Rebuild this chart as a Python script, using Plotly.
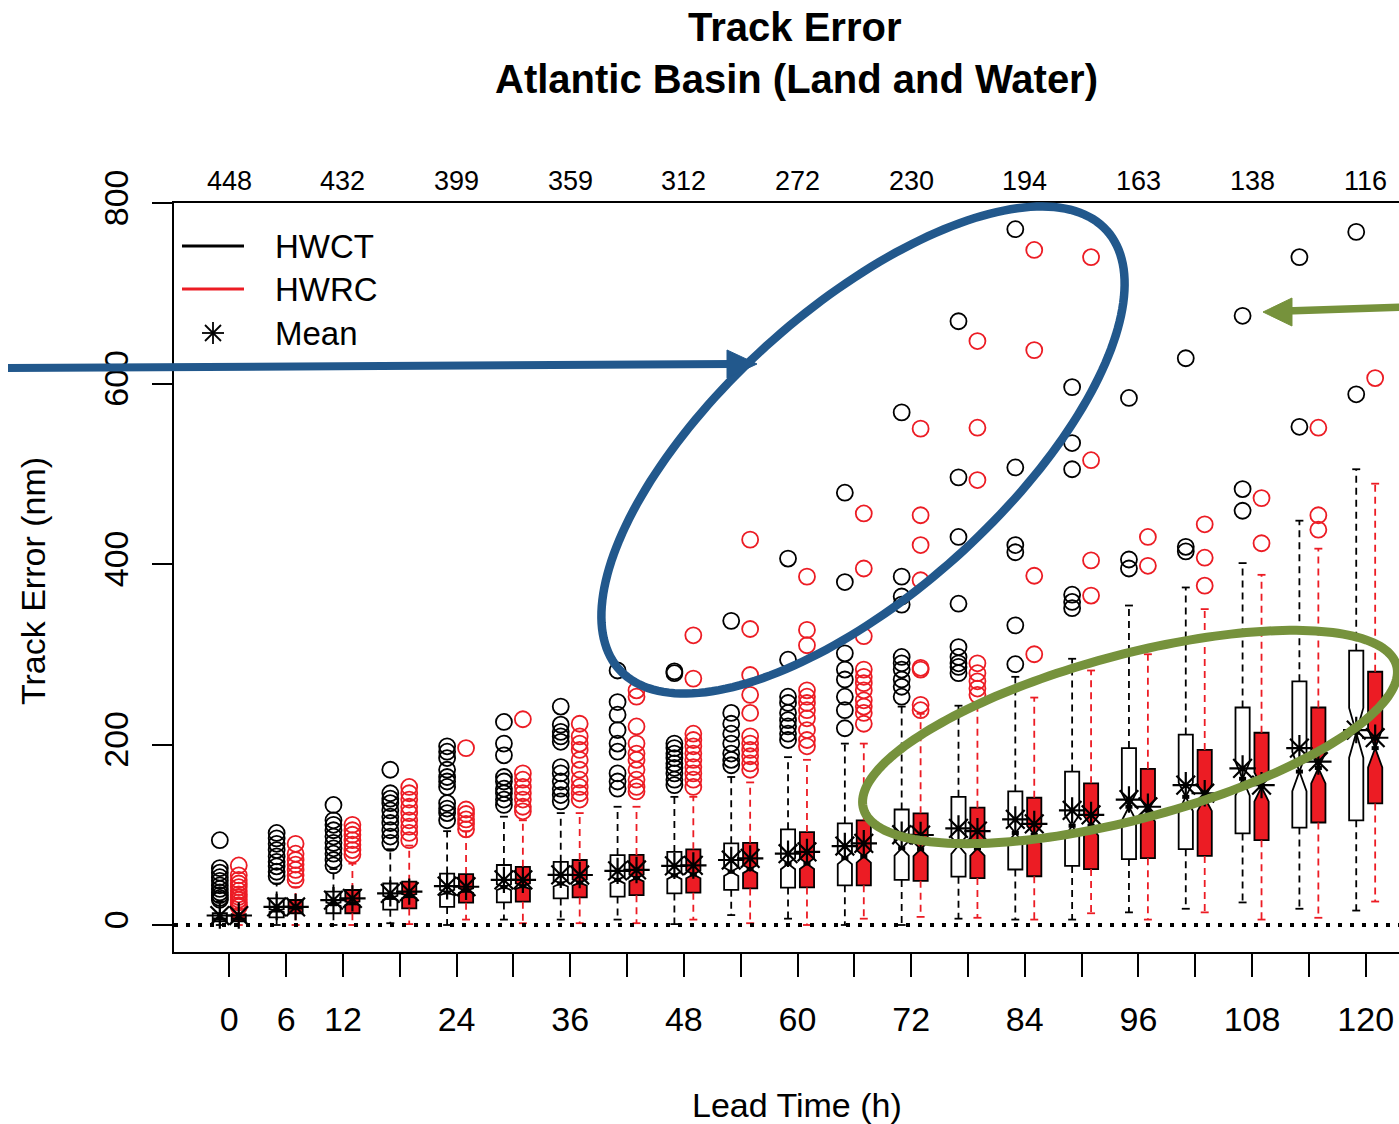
import numpy as np
import plotly.graph_objects as go

# ---------------- data ----------------
lead_times = [0, 6, 12, 18, 24, 30, 36, 42, 48, 54, 60, 66, 72, 78, 84, 90, 96, 102, 108, 114, 120]
tick_text = ["0", "6", "12", "", "24", "", "36", "", "48", "", "60", "", "72", "", "84", "", "96", "", "108", "", "120"]
count_leads = [0, 12, 24, 36, 48, 60, 72, 84, 96, 108, 120]
case_counts = [448, 432, 399, 359, 312, 272, 230, 194, 163, 138, 116]

# HWCT (black, open boxes)
hwct_q1 = [4, 8.5, 13, 17, 20, 25, 29.5, 31.5, 35, 39, 41.5, 44, 50, 53.5, 61.5, 65.5, 73, 84, 101.5, 108, 116]
hwct_med = [7, 16, 23, 30, 36, 42, 46, 50, 55, 59, 68, 74, 85, 88, 102, 110, 131, 142, 162, 170, 213]
hwct_q3 = [13, 29.5, 37, 46, 57, 66.5, 70, 77.5, 81, 90.5, 106, 112.5, 128, 142, 148, 170, 196, 211, 241, 270, 304]
hwct_lo = [0, 0, 0, 2, 0, 6, 6, 6, 1, 11, 7, 0, 0, 7, 6, 6, 14, 18, 25, 18, 16]
hwct_hi = [26, 46, 62, 84, 104, 120, 124, 131, 142, 164, 186, 201, 242, 243, 275, 295, 354, 374, 401, 448, 505]
hwct_mean = [10.5, 20, 27.5, 35, 43, 50, 55.5, 60, 65.5, 72, 79, 87.5, 100, 107, 117, 127, 139, 155, 173.5, 196, 216]
hwct_out = [
    [94, 63, 58, 53, 49, 44, 40, 36, 33, 30, 28],
    [102, 96, 90, 83, 76, 70, 65, 59, 54],
    [133, 116, 111, 105, 98, 91, 85, 79, 72, 66],
    [172, 146, 140, 135, 127, 120, 113, 105, 98, 91],
    [198, 192, 185, 172, 164, 159, 153, 135, 129, 124, 116],
    [225, 201, 188, 164, 159, 151, 146, 139, 133],
    [242, 222, 214, 209, 203, 175, 168, 159, 151, 144, 137],
    [282, 247, 233, 216, 201, 192, 168, 159, 151],
    [281, 279, 201, 196, 190, 185, 179, 174, 168, 161, 155],
    [337, 235, 223, 212, 201, 190, 183, 177],
    [406, 294, 253, 246, 235, 227, 220, 212, 205],
    [479, 380, 301, 283, 272, 253, 238, 218],
    [568, 386, 364, 355, 297, 290, 283, 272, 264, 253],
    [669, 496, 430, 356, 308, 297, 290, 286, 279],
    [771, 507, 421, 413, 332, 289],
    [596, 534, 505, 366, 358, 351],
    [584, 405, 395],
    [628, 419, 414],
    [675, 483, 459],
    [740, 552],
    [768, 588],
]

# HWRC (red, filled boxes)
hwrc_q1 = [4, 13, 13, 18.4, 24.7, 25.8, 30.6, 33, 35.8, 40.5, 41.6, 44, 49, 52, 54, 62, 74, 76.5, 94, 113.6, 134.7]
hwrc_med = [7, 19, 24, 32, 38, 43, 47, 52, 56, 62, 68, 76, 84, 85, 100, 110, 127, 141, 153, 174, 196]
hwrc_q3 = [12, 27.7, 38.8, 48, 56.4, 64.5, 72, 77.6, 83.8, 91, 103, 116, 123.7, 130, 141, 157, 173, 194, 213, 241, 280.6]
hwrc_lo = [0, 0, 0, 1, 6, 2, 2, 2, 6, 2, 0, 7, 9, 8, 6, 13, 6, 14, 6, 8, 26]
hwrc_hi = [18, 42, 68, 88, 104, 116, 124, 131, 142, 158, 183, 201, 234, 245, 252, 282, 300, 350, 388, 417, 489]
hwrc_mean = [10.5, 20, 29.5, 37, 42.4, 50, 55.4, 61, 66, 73.8, 81, 90.5, 99.7, 104, 112, 122, 131, 146, 155, 181, 207.5]
hwrc_out = [
    [66, 55, 50, 46, 42, 38, 34, 31, 28, 25, 22, 20],
    [90, 79, 72, 67, 61, 55, 50],
    [111, 105, 100, 94, 89, 83, 78],
    [153, 146, 139, 131, 124, 116, 109, 102, 94],
    [196, 128, 123, 117, 112, 106],
    [228, 168, 161, 153, 146, 139, 131, 126],
    [223, 209, 201, 194, 183, 172, 161, 153, 146, 139],
    [260, 253, 220, 201, 190, 183, 172, 161, 153, 148],
    [321, 273, 212, 205, 198, 190, 183, 175, 168, 161, 153],
    [427, 328, 277, 255, 235, 209, 201, 194, 187, 179, 172],
    [386, 327, 310, 260, 253, 246, 238, 229, 216, 205, 198],
    [456, 395, 320, 283, 275, 268, 260, 249, 242, 235, 223],
    [550, 454, 421, 382, 285, 283, 244, 238],
    [647, 551, 493, 290, 279, 270, 262, 255],
    [748, 637, 387, 300],
    [740, 515, 404, 365],
    [430, 398],
    [444, 407, 376],
    [473, 423],
    [551, 454, 438],
    [606],
]

# ---------------- styling ----------------
RED = "#EC1C24"
BLUE = "#22588C"
GREEN = "#76923C"
FONT = "Liberation Sans, Arial, Helvetica, sans-serif"
OFFSET = 1.0
BOX_W = 1.5
CAP = 0.42
NOTCH_W = 0.5

L_PX, R_PX, T_PX, B_PX = 174, 1399, 203, 952
W_PX, H_PX = R_PX - L_PX, B_PX - T_PX


def P(px, py):
    return (px - L_PX) / W_PX, (B_PX - py) / H_PX


def notch(q1, q3, i):
    n = case_counts[i // 2]
    return 1.58 * (q3 - q1) / np.sqrt(n)


fig = go.Figure()

series = [
    ("HWCT", -OFFSET, hwct_q1, hwct_med, hwct_q3, hwct_lo, hwct_hi, hwct_mean, hwct_out, "white", "black"),
    ("HWRC", OFFSET, hwrc_q1, hwrc_med, hwrc_q3, hwrc_lo, hwrc_hi, hwrc_mean, hwrc_out, RED, RED),
]

for name, off, q1, med, q3, lo, hi, mean, outs, fill, wcol in series:
    xs = [L + off for L in lead_times]
    # dashed whiskers
    wx, wy = [], []
    cx, cy = [], []
    for i, x in enumerate(xs):
        wx += [x, x, None, x, x, None]
        wy += [q3[i], hi[i], None, q1[i], lo[i], None]
        cx += [x - CAP, x + CAP, None, x - CAP, x + CAP, None]
        cy += [hi[i], hi[i], None, lo[i], lo[i], None]
    fig.add_trace(go.Scatter(x=wx, y=wy, mode="lines", line=dict(color=wcol, width=1.8, dash="7px,5px"),
                             showlegend=False, hoverinfo="skip"))
    fig.add_trace(go.Scatter(x=cx, y=cy, mode="lines", line=dict(color=wcol, width=1.8),
                             showlegend=False, hoverinfo="skip"))
    fig.add_trace(go.Box(
        name=name, x=xs, q1=q1, median=med, q3=q3, lowerfence=q1, upperfence=q3,
        notched=True, notchspan=[notch(a, b, i) for i, (a, b) in enumerate(zip(q1, q3))],
        notchwidth=NOTCH_W, width=BOX_W, whiskerwidth=0, fillcolor=fill,
        line=dict(color="black", width=1.8), boxpoints=False, showlegend=False, hoverinfo="skip"))
    # thick median bars (R draws medians with lwd = 3)
    mx, my = [], []
    half = BOX_W / 2 * (1 - NOTCH_W)
    for i, x in enumerate(xs):
        mx += [x - half, x + half, None]
        my += [med[i], med[i], None]
    fig.add_trace(go.Scatter(x=mx, y=my, mode="lines", line=dict(color="black", width=4),
                             showlegend=False, hoverinfo="skip"))
    ox, oy = [], []
    for i, vals in enumerate(outs):
        ox += [xs[i]] * len(vals)
        oy += vals
    fig.add_trace(go.Scatter(x=ox, y=oy, mode="markers",
                             marker=dict(symbol="circle-open", size=16, color=wcol, line=dict(width=1.8, color=wcol)),
                             showlegend=False, hoverinfo="skip"))

for name, off, q1, med, q3, lo, hi, mean, outs, fill, wcol in series:
    xs = [L + off for L in lead_times]
    fig.add_trace(go.Scatter(x=xs, y=mean, mode="markers",
                             marker=dict(symbol="asterisk-open", size=22, color="black",
                                         line=dict(width=2.2, color="black")),
                             showlegend=False, hoverinfo="skip"))

shapes = []
# dotted zero line
shapes.append(dict(type="line", xref="paper", yref="y", x0=0, x1=1, y0=0, y1=0,
                   line=dict(color="black", width=4, dash="4px,8px")))


def path_from(points, close=True):
    s = "M " + " L ".join(f"{P(a, b)[0]:.5f},{P(a, b)[1]:.5f}" for a, b in points)
    return s + (" Z" if close else "")


def ellipse(cx, cy, a, b, ang_deg):
    th = np.radians(ang_deg)
    u = (np.cos(th), -np.sin(th))
    v = (np.sin(th), np.cos(th))
    t = np.linspace(0, 2 * np.pi, 200)
    return [(cx + a * np.cos(k) * u[0] + b * np.sin(k) * v[0],
             cy + a * np.cos(k) * u[1] + b * np.sin(k) * v[1]) for k in t]


shapes.append(dict(type="path", xref="paper", yref="paper", path=path_from(ellipse(863, 450, 328, 142, 42)),
                   line=dict(color=BLUE, width=8.5)))
shapes.append(dict(type="path", xref="paper", yref="paper", path=path_from(ellipse(1130, 737, 276, 82, 15)),
                   line=dict(color=GREEN, width=9)))
# blue arrow
shapes.append(dict(type="path", xref="paper", yref="paper", path=path_from([(8, 368), (732, 364)], close=False),
                   line=dict(color=BLUE, width=8)))
shapes.append(dict(type="path", xref="paper", yref="paper",
                   path=path_from([(757, 364), (727, 350), (727, 378)]), fillcolor=BLUE, line=dict(color=BLUE, width=1)))
# green arrow
shapes.append(dict(type="path", xref="paper", yref="paper", path=path_from([(1405, 307), (1286, 311)], close=False),
                   line=dict(color=GREEN, width=7.5)))
shapes.append(dict(type="path", xref="paper", yref="paper",
                   path=path_from([(1263, 312), (1292, 298), (1292, 326)]), fillcolor=GREEN, line=dict(color=GREEN, width=1)))
# legend glyphs
shapes.append(dict(type="path", xref="paper", yref="paper", path=path_from([(182, 246), (244, 246)], close=False),
                   line=dict(color="black", width=3)))
shapes.append(dict(type="path", xref="paper", yref="paper", path=path_from([(182, 289), (244, 289)], close=False),
                   line=dict(color=RED, width=3)))
for (x0, y0, x1, y1) in [(202, 333, 224, 333), (213, 322, 213, 344), (205, 325, 221, 341), (205, 341, 221, 325)]:
    shapes.append(dict(type="path", xref="paper", yref="paper", path=path_from([(x0, y0), (x1, y1)], close=False),
                       line=dict(color="black", width=1.8)))

annotations = []
for L, c in zip(count_leads, case_counts):
    annotations.append(dict(x=L, y=P(0, 181)[1], xref="x", yref="paper", text=str(c), showarrow=False,
                            font=dict(size=27, color="black", family=FONT), xanchor="center", yanchor="middle"))
for txt, py in [("HWCT", 246), ("HWRC", 290), ("Mean", 333)]:
    annotations.append(dict(x=P(273, 0)[0], y=P(0, py)[1], xref="paper", yref="paper", text=txt, showarrow=False,
                            font=dict(size=33, color="black", family=FONT), xanchor="left", yanchor="middle"))
annotations.append(dict(x=P(794, 0)[0], y=P(0, 27)[1], xref="paper", yref="paper", text="<b>Track Error</b>",
                        showarrow=False, font=dict(size=40, color="black", family=FONT), xanchor="center", yanchor="middle"))
annotations.append(dict(x=P(796, 0)[0], y=P(0, 79)[1], xref="paper", yref="paper",
                        text="<b>Atlantic Basin (Land and Water)</b>",
                        showarrow=False, font=dict(size=40, color="black", family=FONT), xanchor="center", yanchor="middle"))
annotations.append(dict(x=P(797, 0)[0], y=P(0, 1105)[1], xref="paper", yref="paper", text="Lead Time (h)",
                        showarrow=False, font=dict(size=34, color="black", family=FONT), xanchor="center", yanchor="middle"))
annotations.append(dict(x=P(33, 0)[0], y=P(0, 581)[1], xref="paper", yref="paper", text="Track Error (nm)",
                        textangle=-90, showarrow=False, font=dict(size=34, color="black", family=FONT),
                        xanchor="center", yanchor="middle"))

x_lo = -(229.3 - L_PX) / 9.47
x_hi = x_lo + W_PX / 9.47
y_lo = -(B_PX - 925) / 0.9025
y_hi = y_lo + H_PX / 0.9025

fig.update_layout(
    width=1399, height=1124,
    margin=dict(l=L_PX, r=1399 - R_PX, t=T_PX, b=1124 - B_PX, pad=0),
    paper_bgcolor="white", plot_bgcolor="white",
    boxmode="overlay",
    font=dict(family=FONT, color="black"),
    showlegend=False,
    shapes=shapes, annotations=annotations,
    xaxis=dict(range=[x_lo, x_hi], tickmode="array", tickvals=lead_times, ticktext=tick_text,
               ticks="outside", ticklen=23, tickwidth=1.6, tickcolor="black",
               showline=True, linewidth=2, linecolor="black", mirror=True,
               showgrid=False, zeroline=False, tickfont=dict(size=34, family=FONT),
               ticklabelstandoff=13),
    yaxis=dict(range=[y_lo, y_hi], tickmode="array", tickvals=[0, 200, 400, 600, 800],
               ticks="outside", ticklen=20, tickwidth=1.6, tickcolor="black", tickangle=-90,
               showline=True, linewidth=2, linecolor="black", mirror=False,
               showgrid=False, zeroline=False, tickfont=dict(size=34, family=FONT),
               ticklabelstandoff=10),
)

fig.write_html("out.html")
